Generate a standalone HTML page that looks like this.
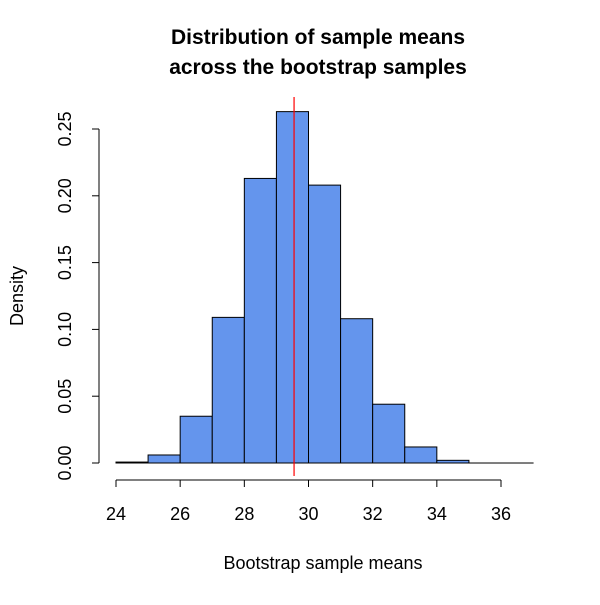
<!DOCTYPE html>
<html><head><meta charset="utf-8"><style>
body{margin:0;background:#fff}
svg text{font-family:"Liberation Sans",Arial,sans-serif;fill:#000}
</style></head><body>
<svg width="600" height="600" xmlns="http://www.w3.org/2000/svg">
<rect width="600" height="600" fill="#fff"/>
<text x="318" y="44" font-size="21" font-weight="bold" text-anchor="middle">Distribution of sample means</text>
<text x="318" y="74" font-size="21" font-weight="bold" text-anchor="middle">across the bootstrap samples</text>
<text x="323" y="569" font-size="18" text-anchor="middle">Bootstrap sample means</text>
<text transform="translate(23,296) rotate(-90)" font-size="18" text-anchor="middle">Density</text>
<g id="bars"></g>
<g id="axes"></g>
</svg>
<script>
const binStarts=[24,25,26,27,28,29,30,31,32,33,34,35,36];
const densities=[0.0007,0.006,0.035,0.109,0.213,0.263,0.208,0.108,0.044,0.012,0.002,0,0];
const xTicks=[24,26,28,30,32,34,36];
const yTicks=[0,0.05,0.10,0.15,0.20,0.25];
const yTickLabels=["0.00","0.05","0.10","0.15","0.20","0.25"];
const meanValue=29.55;
const NS="http://www.w3.org/2000/svg";
const xs=v=>116+(v-24)*(501-116)/12;
const ys=v=>463-v*(463-129)/0.25;
function mk(t,a,p){const e=document.createElementNS(NS,t);for(const k in a)e.setAttribute(k,a[k]);p.appendChild(e);return e;}
const bars=document.getElementById('bars'),axes=document.getElementById('axes');
binStarts.forEach((b,i)=>{
 const x0=xs(b),x1=xs(b+1),y=ys(densities[i]);
 const r=mk('rect',{x:x0,y:y,width:x1-x0,height:Math.max(ys(0)-y,0.01),fill:'#6495ED',stroke:'#000','stroke-width':1},bars);
 
 
});
const ml=mk('line',{x1:xs(meanValue),x2:xs(meanValue),y1:97,y2:476,stroke:'#f00','stroke-width':1.2},bars);


const xa=mk('line',{x1:xs(xTicks[0]),x2:xs(xTicks[xTicks.length-1]),y1:480,y2:480,stroke:'#000'},axes);


xTicks.forEach(t=>{
 mk('line',{x1:xs(t),x2:xs(t),y1:480,y2:487,stroke:'#000'},axes);
 const tx=mk('text',{x:xs(t),y:520,'font-size':18,'text-anchor':'middle'},axes);
 tx.textContent=t;
 
 
});
const ya=mk('line',{x1:99,x2:99,y1:ys(yTicks[yTicks.length-1]),y2:ys(0),stroke:'#000'},axes);


yTicks.forEach((t,i)=>{
 mk('line',{x1:92,x2:99,y1:ys(t),y2:ys(t),stroke:'#000'},axes);
 const tx=mk('text',{transform:`translate(71,${ys(t)}) rotate(-90)`,'font-size':18,'text-anchor':'middle'},axes);
 tx.textContent=yTickLabels[i];
 
 
});
</script>
</body></html>
